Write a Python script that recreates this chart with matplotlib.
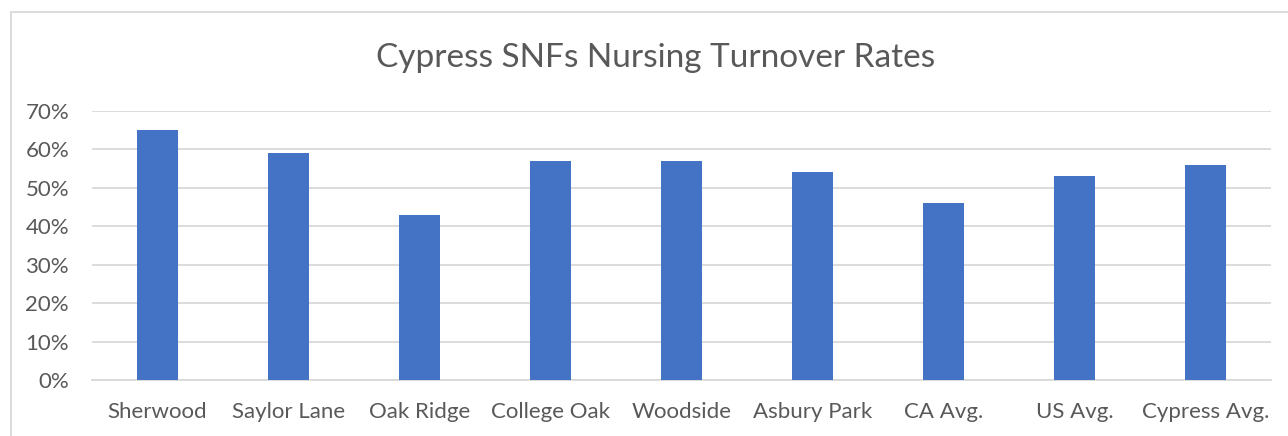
import matplotlib
matplotlib.use("Agg")
import matplotlib.pyplot as plt
from matplotlib.patches import Rectangle
from matplotlib.ticker import PercentFormatter, MultipleLocator

categories = ["Sherwood", "Saylor Lane", "Oak Ridge", "College Oak", "Woodside",
              "Asbury Park", "CA Avg.", "US Avg.", "Cypress Avg."]
values = [0.65, 0.59, 0.43, 0.57, 0.57, 0.54, 0.46, 0.53, 0.56]
title = "Cypress SNFs Nursing Turnover Rates"

plt.rcParams['font.family'] = ['Lato', 'DejaVu Sans']
W, H = 1288, 436
fig = plt.figure(figsize=(W / 100, H / 100), dpi=100)
fig.patch.set_facecolor("white")

# outer chart frame
fig.patches.append(Rectangle((11 / W, -0.1), 1.2, 1.1 - 12 / H, transform=fig.transFigure,
                             fill=False, edgecolor="#D9D9D9", linewidth=1.3))

ax = fig.add_axes([92 / W, 1 - 380 / H, (1271 - 92) / W, (380 - 111) / H])
x = range(len(categories))
ax.bar(x, values, width=0.31, color="#4472C4", zorder=3)
ax.set_xlim(-0.5, len(categories) - 0.5)
ax.set_ylim(0, 0.7)
ax.yaxis.set_major_locator(MultipleLocator(0.1))
ax.yaxis.set_major_formatter(PercentFormatter(1.0, decimals=0))
ax.set_xticks(list(x))
ax.set_xticklabels(categories)
ax.grid(axis="y", color="#D9D9D9", linewidth=1.3, zorder=0)
for s in ["top", "right", "left"]:
    ax.spines[s].set_visible(False)
ax.spines["bottom"].set_color("#D9D9D9")
ax.spines["bottom"].set_linewidth(1.3)
ax.tick_params(axis="both", length=0, labelsize=16, labelcolor="#595959")
ax.tick_params(axis="x", pad=15.5)
ax.tick_params(axis="y", pad=16.5)

fig.text((378 + 934) / 2 / W, 1 - 58 / H, title, ha="center", va="center",
         fontsize=24, color="#595959")

fig.savefig("out.png", dpi=100)
